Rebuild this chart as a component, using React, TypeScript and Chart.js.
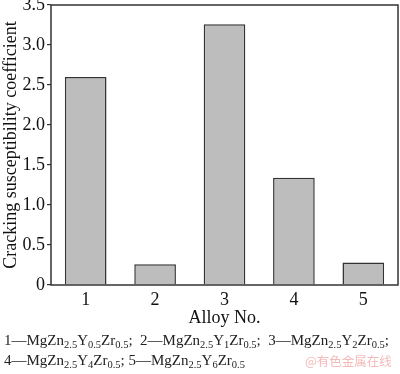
import React, { useEffect, useRef } from "react";
import { Chart, registerables } from "chart.js";

Chart.register(...registerables);

const categories = ["1", "2", "3", "4", "5"];
const coefficients = [2.6, 0.26, 3.26, 1.34, 0.28];
const yTicks = [0, 0.5, 1.0, 1.5, 2.0, 2.5, 3.0, 3.5];

const frame = {
  id: "frame",
  afterDraw(chart: any) {
    const { ctx, chartArea } = chart;
    ctx.save();
    ctx.strokeStyle = "#333";
    ctx.lineWidth = 1.5;
    ctx.strokeRect(chartArea.left, chartArea.top, chartArea.right - chartArea.left, chartArea.bottom - chartArea.top);
    ctx.restore();
  },
};

export default function App() {
  const ref = useRef<HTMLCanvasElement>(null);
  useEffect(() => {
    const chart = new Chart(ref.current!, {
      type: "bar",
      data: {
        labels: categories,
        datasets: [
          {
            data: coefficients,
            backgroundColor: "#bdbdbd",
            borderColor: "#333",
            borderWidth: 1.5,
            categoryPercentage: 1,
            barPercentage: 0.6,
          },
        ],
      },
      options: {
        animation: false,
        responsive: false,
        layout: { padding: { left: 0, right: 2, top: 5, bottom: 0 } },
        plugins: { legend: { display: false }, tooltip: { enabled: false } },
        scales: {
          x: {
            grid: { display: false, drawTicks: false },
            border: { display: false },
            ticks: { color: "#111", padding: 4, font: { family: "Liberation Serif", size: 18 } },
            title: { display: false },
            afterFit: (s: any) => {
              s.height = 89;
              s.paddingLeft = 0;
              s.paddingRight = 0;
            },
          },
          y: {
            min: 0,
            max: 3.5,
            grid: { display: true, drawOnChartArea: false, drawTicks: true, tickLength: 4, color: "#333", lineWidth: 1.2 },
            border: { display: false },
            afterBuildTicks: (s: any) => {
              s.ticks = yTicks.map((v) => ({ value: v }));
            },
            ticks: {
              color: "#111",
              padding: 2,
              font: { family: "Liberation Serif", size: 18 },
              callback: (v: any) => (Number(v) === 0 ? "0" : Number(v).toFixed(1)),
            },
            title: {
              display: true,
              text: "Cracking susceptibility coefficient",
              color: "#111",
              padding: 0,
              font: { family: "Liberation Serif", size: 18 },
            },
            afterFit: (s: any) => {
              s.width = 51;
              s.paddingTop = 0;
              s.paddingBottom = 0;
            },
          },
        },
      },
      plugins: [frame],
    });
    return () => chart.destroy();
  }, []);

  const cap: React.CSSProperties = {
    position: "absolute",
    left: 4,
    fontFamily: "Liberation Serif",
    fontSize: 15,
    color: "#222",
    whiteSpace: "nowrap",
    lineHeight: "20px",
  };
  const sub: React.CSSProperties = { fontSize: 10.5, verticalAlign: "-3px", lineHeight: 0 };
  const S = (t: string) => <span style={sub}>{t}</span>;

  return (
    <div style={{ position: "fixed", left: 0, top: 0, width: 400, height: 374, background: "#fff" }}>
      <canvas ref={ref} width={400} height={374} style={{ position: "absolute", left: 0, top: 0 }} />
      <div
        style={{
          position: "absolute",
          left: 51,
          width: 347,
          top: 306,
          textAlign: "center",
          fontFamily: "Liberation Serif",
          fontSize: 18,
          lineHeight: "22px",
          color: "#111",
        }}
      >
        Alloy No.
      </div>
      <div style={{ ...cap, top: 330 }}>
        1—MgZn{S("2.5")}Y{S("0.5")}Zr{S("0.5")};&nbsp; 2—MgZn{S("2.5")}Y{S("1")}Zr{S("0.5")};&nbsp; 3—MgZn{S("2.5")}Y{S("2")}Zr{S("0.5")};
      </div>
      <div style={{ ...cap, top: 350 }}>
        4—MgZn{S("2.5")}Y{S("4")}Zr{S("0.5")}; 5—MgZn{S("2.5")}Y{S("6")}Zr{S("0.5")}
      </div>
      <div
        style={{
          position: "absolute",
          left: 305,
          top: 351,
          fontFamily: "Noto Sans CJK SC",
          fontSize: 12.5,
          color: "rgba(235,140,140,0.6)",
          whiteSpace: "nowrap",
        }}
      >
        @有色金属在线
      </div>
    </div>
  );
}
